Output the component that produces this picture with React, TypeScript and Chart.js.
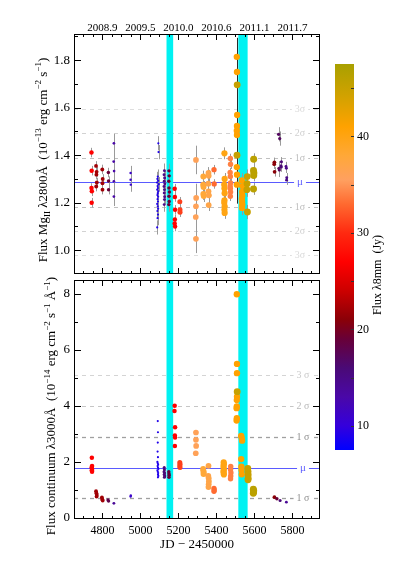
import React, { useEffect, useRef } from "react";
import { Chart, registerables } from "chart.js";
Chart.register(...registerables);

const SERIF = "'Liberation Serif','Times New Roman','DejaVu Serif',serif";

// ---------- axes / labels ----------
const X_MIN = 4650, X_MAX = 5945;
const JD_TICKS = [4800, 5000, 5200, 5400, 5600, 5800];
const YEAR_LABELS = ["2008.9", "2009.5", "2010.0", "2010.6", "2011.1", "2011.7"];
const MG_TICKS = [1.0, 1.2, 1.4, 1.6, 1.8];
const MG_MINOR = [1.1, 1.3, 1.5, 1.7, 1.9];
const MG_RANGE = [0.9, 1.91];
const CONT_TICKS = [0, 2, 4, 6, 8];
const CONT_MINOR = [1, 3, 5, 7];
const CONT_RANGE = [-0.04, 8.5];
const CBAR_TICKS = [10, 20, 30, 40];
const CBAR_RANGE = [7.5, 47.5];
const BANDS = [[5137, 5172], [5515, 5564]];

const MG_MU = 1.287, MG_SIGMA = 0.103;
const MG_LEVELS = [-3, -2, -1, 0, 1, 2, 3];
const MG_LEVEL_LABELS = ["3σ", "2σ", "1σ", "μ", "1σ", "2σ", "3σ"];
const CONT_MU = 1.8, CONT_SIGMA = 1.1;
const CONT_LEVELS = [-1, 0, 1, 2, 3];
const CONT_LEVEL_LABELS = ["1 σ", "μ", "1 σ", "2 σ", "3 σ"];

// ---------- Mg II data (groups) ----------
const mgGroupMM = [27, 22, 22, 19, 13, 11, 9, 15, 19, 27, 31, 36, 38, 37, 33, 40, 34, 41, 45, 41, 45, 46, 21, 17, 16, 15];
const mgGroupErr = [0.02, 0.02, 0.02, 0.02, 0.04, 0.03, 0.03, 0.03, 0.03, 0.02, 0.02, 0.06, 0.025, 0.025, 0.02, 0.025, 0.02, 0.08, 0.07, 0.03, 0.03, 0.025, 0.02, 0.03, 0.02, 0.02];
const mgGroupJD = [
  [4742, 4743, 4742, 4744, 4743],
  [4766, 4769, 4768, 4770, 4767],
  [4799, 4801, 4800, 4800],
  [4831, 4832, 4832],
  [4860, 4859, 4861, 4860, 4860],
  [4948, 4948, 4949],
  [5094, 5095, 5091, 5089, 5093, 5087, 5096, 5090, 5092, 5088, 5094, 5091, 5089, 5093, 5090, 5092, 5088, 5091, 5093, 5089, 5092, 5090, 5088],
  [5126, 5124, 5127, 5125, 5128, 5124, 5126, 5125, 5127, 5126, 5125],
  [5150, 5151, 5149, 5150, 5152, 5150, 5151, 5149],
  [5180, 5181, 5182, 5181, 5180, 5182],
  [5207, 5208, 5208],
  [5292, 5293, 5292, 5291, 5292],
  [5331, 5330, 5332, 5331, 5333],
  [5358, 5359, 5357, 5358, 5360, 5359],
  [5387, 5388],
  [5442, 5443, 5441, 5442, 5443, 5442, 5441, 5443, 5442, 5443],
  [5473, 5474, 5472, 5473, 5474, 5472, 5473, 5474, 5473],
  [5507, 5508, 5509, 5508, 5507, 5508, 5507, 5508, 5507],
  [5509, 5508],
  [5534, 5536, 5535, 5536, 5534, 5535, 5536, 5535],
  [5562, 5561, 5560, 5563],
  [5596, 5595, 5597, 5596, 5595],
  [5705, 5704, 5706],
  [5727, 5733, 5729, 5731],
  [5742, 5740, 5741],
  [5766, 5768, 5770, 5769],
];
const mgGroupFlux = [
  [1.411, 1.335, 1.262, 1.248, 1.2],
  [1.355, 1.33, 1.318, 1.285, 1.268],
  [1.34, 1.3, 1.282, 1.255],
  [1.327, 1.291, 1.255],
  [1.45, 1.373, 1.333, 1.29, 1.226],
  [1.325, 1.297, 1.276],
  [1.45, 1.413, 1.31, 1.3, 1.292, 1.285, 1.278, 1.27, 1.262, 1.255, 1.248, 1.24, 1.232, 1.225, 1.215, 1.205, 1.195, 1.185, 1.175, 1.165, 1.15, 1.135, 1.096],
  [1.335, 1.318, 1.304, 1.29, 1.28, 1.268, 1.255, 1.241, 1.225, 1.213, 1.192],
  [1.334, 1.313, 1.29, 1.262, 1.245, 1.227, 1.205, 1.192],
  [1.259, 1.224, 1.17, 1.129, 1.112, 1.1],
  [1.204, 1.17, 1.16],
  [1.38, 1.22, 1.185, 1.14, 1.048],
  [1.31, 1.276, 1.266, 1.237, 1.228],
  [1.325, 1.313, 1.28, 1.248, 1.231, 1.19],
  [1.339, 1.279],
  [1.408, 1.3, 1.276, 1.26, 1.24, 1.21, 1.2, 1.185, 1.17, 1.157],
  [1.386, 1.362, 1.327, 1.31, 1.283, 1.269, 1.26, 1.245, 1.227],
  [1.814, 1.75, 1.569, 1.523, 1.503, 1.485, 1.35, 1.318, 1.276],
  [1.696, 1.4],
  [1.294, 1.27, 1.245, 1.23, 1.217, 1.205, 1.192, 1.178],
  [1.31, 1.28, 1.255, 1.161],
  [1.383, 1.336, 1.325, 1.315, 1.258],
  [1.37, 1.362, 1.33],
  [1.488, 1.47, 1.345, 1.338],
  [1.372, 1.355, 1.35],
  [1.352, 1.345, 1.305, 1.295],
];

// ---------- continuum data (groups) ----------
const contGroupMM = [27, 22, 22, 18, 14, 11, 9, 16, 19, 27, 31, 36, 38, 37, 33, 40, 34, 41, 45, 41, 45, 46, 21, 19, 16, 14];
const contGroupJD = [
  [4744, 4745, 4743, 4745, 4744, 4745],
  [4766, 4768, 4770, 4769],
  [4797, 4799, 4801],
  [4829, 4832],
  [4860],
  [4948, 4949],
  [5091, 5092, 5091, 5090, 5092, 5089, 5091, 5093, 5090, 5092, 5094, 5089, 5091, 5093, 5092, 5094, 5092],
  [5125, 5126, 5124, 5127, 5125, 5128, 5126],
  [5149, 5150, 5151, 5150],
  [5180, 5179, 5182, 5181, 5182, 5181],
  [5207, 5208, 5207, 5208],
  [5292, 5292, 5293, 5291],
  [5330, 5331, 5333, 5332],
  [5358, 5357, 5359, 5360, 5359, 5358],
  [5387, 5388, 5387],
  [5438, 5439, 5437, 5438, 5439, 5437, 5438, 5439],
  [5475, 5474, 5476, 5475, 5474],
  [5507, 5508, 5508, 5508, 5507, 5507, 5506, 5507, 5506],
  [5509],
  [5530, 5533, 5535, 5530, 5531, 5532, 5533],
  [5565, 5566, 5567, 5567, 5566],
  [5594, 5596, 5595, 5594],
  [5705],
  [5718],
  [5735],
  [5768],
];
const contGroupFlux = [
  [2.15, 1.85, 1.8, 1.75, 1.7, 1.65],
  [0.95, 0.88, 0.82, 0.76],
  [0.73, 0.66, 0.62],
  [0.64, 0.6],
  [0.52],
  [0.76, 0.8],
  [3.46, 3.06, 2.69, 2.37, 2.17, 2.0, 1.95, 1.9, 1.85, 1.8, 1.75, 1.7, 1.65, 1.6, 1.55, 1.5, 1.45],
  [1.8, 1.72, 1.65, 1.6, 1.55, 1.5, 1.45],
  [1.65, 1.58, 1.52, 1.45],
  [4.01, 3.82, 3.24, 2.94, 2.87, 2.57],
  [1.98, 1.92, 1.85, 1.8],
  [3.05, 2.79, 2.57, 2.31],
  [1.75, 1.68, 1.62, 1.57],
  [1.86, 1.5, 1.42, 1.3, 1.2, 1.1],
  [1.05, 1.0, 0.95],
  [1.98, 1.92, 1.85, 1.78, 1.72, 1.66, 1.6, 1.55],
  [1.84, 1.73, 1.61, 1.5, 1.4],
  [7.99, 5.5, 5.17, 4.33, 4.21, 3.98, 3.92, 3.56, 3.48],
  [4.51],
  [2.93, 2.85, 2.76, 2.1, 1.83, 1.71, 1.56],
  [1.77, 1.66, 1.54, 1.42, 1.36],
  [1.02, 0.97, 0.92, 0.88],
  [0.74],
  [0.68],
  [0.62],
  [0.56],
];

// ---------- colour map ----------
const CMAP: Array<[number, number[]]> = [
  [7.5, [0, 0, 255]],
  [10, [52, 0, 220]],
  [13, [74, 8, 168]],
  [16, [74, 10, 118]],
  [19, [104, 0, 56]],
  [21, [138, 0, 8]],
  [24, [204, 0, 0]],
  [27, [255, 0, 0]],
  [30, [255, 42, 16]],
  [33, [255, 106, 48]],
  [35.5, [255, 160, 96]],
  [38, [255, 168, 56]],
  [41, [255, 162, 0]],
  [44, [212, 162, 0]],
  [47.5, [168, 160, 0]],
];
function cmap(v: number): string {
  if (v <= CMAP[0][0]) return `rgb(${CMAP[0][1].join(",")})`;
  for (let i = 1; i < CMAP.length; i++) {
    if (v <= CMAP[i][0]) {
      const [a, ca] = CMAP[i - 1];
      const [b, cb] = CMAP[i];
      const t = (v - a) / (b - a);
      const c = ca.map((x, k) => Math.round(x + (cb[k] - x) * t));
      return `rgb(${c.join(",")})`;
    }
  }
  return `rgb(${CMAP[CMAP.length - 1][1].join(",")})`;
}
const radiusFor = (mm: number) => 0.5 + mm * 0.065;

function flatten(jds: number[][], vals: number[][], mms: number[], errs?: number[]) {
  const pts: { x: number; y: number }[] = [];
  const colors: string[] = [];
  const radii: number[] = [];
  const e: number[] = [];
  jds.forEach((g, gi) => {
    g.forEach((x, i) => {
      pts.push({ x, y: vals[gi][i] });
      colors.push(cmap(mms[gi]));
      radii.push(radiusFor(mms[gi]));
      e.push(errs ? errs[gi] : 0);
    });
  });
  return { pts, colors, radii, e };
}

// ---------- drawing helpers ----------
type Part = { t: string; s?: "sup" | "sub" };
function drawRichVertical(ctx: CanvasRenderingContext2D, parts: Part[], x: number, y: number, size: number) {
  ctx.save();
  ctx.translate(x, y);
  ctx.rotate(-Math.PI / 2);
  ctx.fillStyle = "#000";
  ctx.textBaseline = "alphabetic";
  ctx.textAlign = "left";
  const fontOf = (p: Part) => `${p.s ? Math.round(size * 0.7) : size}px ${SERIF}`;
  let total = 0;
  const widths = parts.map((p) => {
    ctx.font = fontOf(p);
    const w = ctx.measureText(p.t).width;
    total += w;
    return w;
  });
  let cx = -total / 2;
  parts.forEach((p, i) => {
    ctx.font = fontOf(p);
    const dy = p.s === "sup" ? -size * 0.42 : p.s === "sub" ? size * 0.25 : 0;
    ctx.fillText(p.t, cx, dy);
    cx += widths[i];
  });
  ctx.restore();
}

function bgPlugin(opts: { mu: number; sigma: number; levels: number[]; labels: string[]; lineColors: string[]; lineWidths: number[]; labelColors: string[]; labelX: number; errDraw: boolean; errs: number[]; pts: { x: number; y: number }[] }) {
  return {
    id: "bg",
    beforeDatasetsDraw(chart: any) {
      const { ctx, chartArea: a, scales } = chart;
      const xs = scales.x, ys = scales.y;
      ctx.save();
      ctx.beginPath();
      ctx.rect(a.left, a.top, a.right - a.left, a.bottom - a.top);
      ctx.clip();
      // sigma lines
      opts.levels.forEach((k, i) => {
        const v = opts.mu + k * opts.sigma;
        const py = Math.round(ys.getPixelForValue(v)) + 0.5;
        const ak = Math.abs(k);
        ctx.strokeStyle = opts.lineColors[ak];
        ctx.lineWidth = opts.lineWidths[ak];
        ctx.setLineDash(k === 0 ? [] : [4, 4]);
        ctx.beginPath();
        ctx.moveTo(a.left, py);
        ctx.lineTo(a.right, py);
        ctx.stroke();
        ctx.setLineDash([]);
        ctx.font = `${k === 0 ? 11 : 10}px ${SERIF}`;
        const lab = opts.labels[i];
        const w = ctx.measureText(lab).width;
        ctx.fillStyle = "#fff";
        ctx.fillRect(opts.labelX - w / 2 - 3, py - 4, w + 6, 8);
        ctx.fillStyle = opts.labelColors[ak];
        ctx.textAlign = "center";
        ctx.textBaseline = "middle";
        ctx.fillText(lab, opts.labelX, py);
      });
      // bands
      ctx.fillStyle = "#00f2f2";
      BANDS.forEach(([b0, b1]) => {
        const x0 = xs.getPixelForValue(b0), x1 = xs.getPixelForValue(b1);
        ctx.fillRect(x0, a.top, x1 - x0, a.bottom - a.top);
      });
      // error bars
      if (opts.errDraw) {
        ctx.lineWidth = 1;
        opts.pts.forEach((p, i) => {
          const e = opts.errs[i];
          if (!e) return;
          const px = Math.round(xs.getPixelForValue(p.x)) + 0.5;
          ctx.strokeStyle = e >= 0.07 ? "#2a2a2a" : "#9a9a9a";
          ctx.beginPath();
          ctx.moveTo(px, ys.getPixelForValue(p.y - e));
          ctx.lineTo(px, ys.getPixelForValue(p.y + e));
          ctx.stroke();
        });
      }
      ctx.restore();
    },
  };
}

function framePlugin(opts: { yMinor: number[]; yMajor: number[]; extra?: (chart: any) => void }) {
  return {
    id: "frame",
    afterDraw(chart: any) {
      const { ctx, chartArea: a, scales } = chart;
      const xs = scales.x, ys = scales.y;
      ctx.save();
      ctx.strokeStyle = "#000";
      ctx.lineWidth = 1;
      ctx.strokeRect(a.left + 0.5, a.top + 0.5, a.right - a.left - 1, a.bottom - a.top - 1);
      ctx.beginPath();
      for (let v = 4700; v <= 5900; v += 50) {
        const px = Math.round(xs.getPixelForValue(v)) + 0.5;
        const len = v % 200 === 0 ? 6 : 3;
        ctx.moveTo(px, a.bottom);
        ctx.lineTo(px, a.bottom - len);
        ctx.moveTo(px, a.top);
        ctx.lineTo(px, a.top + len);
      }
      const ticks = [...opts.yMinor.map((v) => [v, 4]), ...opts.yMajor.map((v) => [v, 7])];
      ticks.forEach(([v, len]) => {
        const py = Math.round(ys.getPixelForValue(v)) + 0.5;
        ctx.moveTo(a.left, py);
        ctx.lineTo(a.left + len, py);
        ctx.moveTo(a.right, py);
        ctx.lineTo(a.right - len, py);
      });
      ctx.stroke();
      ctx.restore();
      if (opts.extra) opts.extra(chart);
    },
  };
}

function drawColorbar(chart: any) {
  const ctx: CanvasRenderingContext2D = chart.ctx;
  const L = 335, R = 354, T = 64, B = 450;
  const [v0, v1] = CBAR_RANGE;
  const yOf = (v: number) => B - ((v - v0) / (v1 - v0)) * (B - T);
  ctx.save();
  const g = ctx.createLinearGradient(0, B, 0, T);
  CMAP.forEach(([v]) => g.addColorStop(Math.min(1, Math.max(0, (v - v0) / (v1 - v0))), cmap(v)));
  ctx.fillStyle = g;
  ctx.fillRect(L, T, R - L, B - T);
  ctx.strokeStyle = "#333";
  ctx.lineWidth = 1;
  ctx.beginPath();
  for (let v = 10; v <= 45; v += 5) {
    const py = Math.round(yOf(v)) + 0.5;
    ctx.moveTo(R, py);
    ctx.lineTo(R - 3, py);
  }
  ctx.stroke();
  ctx.fillStyle = "#000";
  ctx.font = `12px ${SERIF}`;
  ctx.textAlign = "left";
  ctx.textBaseline = "middle";
  CBAR_TICKS.forEach((v) => ctx.fillText(String(v), 357, yOf(v)));
  ctx.restore();
  drawRichVertical(ctx, [{ t: "Flux λ8mm  (Jy)" }], 381, 275, 12);
}

const TOP_TITLE: Part[] = [
  { t: "Flux Mg" }, { t: "II", s: "sub" }, { t: " λ2800Å  (10" }, { t: "−13", s: "sup" },
  { t: " erg cm" }, { t: "−2", s: "sup" }, { t: " s" }, { t: "−1", s: "sup" }, { t: ")" },
];
const BOT_TITLE: Part[] = [
  { t: "Flux continuum λ3000Å  (10" }, { t: "−14", s: "sup" }, { t: " erg cm" }, { t: "−2", s: "sup" },
  { t: " s" }, { t: "−1", s: "sup" }, { t: " Å" }, { t: "−1", s: "sup" }, { t: ")" },
];

export default function App() {
  const topRef = useRef<HTMLCanvasElement>(null);
  const botRef = useRef<HTMLCanvasElement>(null);

  useEffect(() => {
    Chart.defaults.font.family = SERIF;
    const mg = flatten(mgGroupJD, mgGroupFlux, mgGroupMM, mgGroupErr);
    const ct = flatten(contGroupJD, contGroupFlux, contGroupMM);

    const commonY = (min: number, max: number, ticks: number[], fmt: (v: number) => string) => ({
      type: "linear" as const,
      position: "left" as const,
      min,
      max,
      afterFit: (s: any) => { s.width = 74; },
      afterBuildTicks: (s: any) => { s.ticks = ticks.map((v) => ({ value: v })); },
      ticks: { callback: (v: any) => fmt(Number(v)), font: { family: SERIF, size: 13 }, color: "#000", padding: 4 },
      grid: { display: false, drawTicks: false },
      border: { display: false },
    });

    const c1 = new Chart(topRef.current as HTMLCanvasElement, {
      type: "scatter",
      data: {
        datasets: [{
          data: mg.pts,
          pointBackgroundColor: mg.colors,
          pointRadius: mg.radii,
          pointHoverRadius: mg.radii,
          pointBorderWidth: 0,
        }],
      },
      options: {
        animation: false,
        responsive: false,
        devicePixelRatio: 1,
        events: [],
        layout: { padding: { left: 0, top: 0, right: 93, bottom: 311 } },
        plugins: { legend: { display: false }, tooltip: { enabled: false } },
        scales: {
          x: {
            type: "linear",
            position: "top",
            min: X_MIN,
            max: X_MAX,
            afterFit: (s: any) => { s.height = 34; },
            afterBuildTicks: (s: any) => { s.ticks = JD_TICKS.map((v) => ({ value: v })); },
            ticks: { display: false },
            grid: { display: false, drawTicks: false },
            border: { display: false },
          },
          y: commonY(MG_RANGE[0], MG_RANGE[1], MG_TICKS, (v) => v.toFixed(1)),
        },
      } as any,
      plugins: [
        bgPlugin({
          mu: MG_MU, sigma: MG_SIGMA, levels: MG_LEVELS, labels: MG_LEVEL_LABELS,
          lineColors: ["#5a5aff", "#c0c0c0", "#d2d2d2", "#dedede"],
          lineWidths: [1, 1, 1, 1],
          labelColors: ["#6060ff", "#bdbdbd", "#d0d0d0", "#dadada"],
          labelX: 300, errDraw: true, errs: mg.e, pts: mg.pts,
        }),
        framePlugin({
          yMinor: MG_MINOR,
          yMajor: MG_TICKS,
          extra: (chart) => {
            const ctx = chart.ctx as CanvasRenderingContext2D;
            const xs = chart.scales.x;
            ctx.save();
            ctx.fillStyle = "#000";
            ctx.font = `11px ${SERIF}`;
            ctx.textAlign = "center";
            ctx.textBaseline = "middle";
            JD_TICKS.forEach((v, i) => ctx.fillText(YEAR_LABELS[i], xs.getPixelForValue(v), 28));
            ctx.restore();
            drawRichVertical(ctx, TOP_TITLE, 46.5, 160, 13);
            drawColorbar(chart);
          },
        }),
      ],
    });

    const c2 = new Chart(botRef.current as HTMLCanvasElement, {
      type: "scatter",
      data: {
        datasets: [{
          data: ct.pts,
          pointBackgroundColor: ct.colors,
          pointRadius: ct.radii,
          pointHoverRadius: ct.radii,
          pointBorderWidth: 0,
        }],
      },
      options: {
        animation: false,
        responsive: false,
        devicePixelRatio: 1,
        events: [],
        layout: { padding: { left: 0, top: 280, right: 93, bottom: 0 } },
        plugins: { legend: { display: false }, tooltip: { enabled: false } },
        scales: {
          x: {
            type: "linear",
            position: "bottom",
            min: X_MIN,
            max: X_MAX,
            afterFit: (s: any) => { s.height = 66; },
            afterBuildTicks: (s: any) => { s.ticks = JD_TICKS.map((v) => ({ value: v })); },
            ticks: {
              callback: (v: any) => String(v),
              font: { family: SERIF, size: 12 },
              color: "#000",
              padding: 5,
              maxRotation: 0,
              autoSkip: false,
            },
            grid: { display: false, drawTicks: false },
            border: { display: false },
          },
          y: commonY(CONT_RANGE[0], CONT_RANGE[1], CONT_TICKS, (v) => String(Math.round(v))),
        },
      } as any,
      plugins: [
        bgPlugin({
          mu: CONT_MU, sigma: CONT_SIGMA, levels: CONT_LEVELS, labels: CONT_LEVEL_LABELS,
          lineColors: ["#5a5aff", "#a0a0a0", "#c6c6c6", "#d4d4d4"],
          lineWidths: [1, 1.3, 1, 1],
          labelColors: ["#6060ff", "#909090", "#b8b8b8", "#cacaca"],
          labelX: 303, errDraw: false, errs: ct.e, pts: ct.pts,
        }),
        framePlugin({
          yMinor: CONT_MINOR,
          yMajor: CONT_TICKS,
          extra: (chart) => {
            const ctx = chart.ctx as CanvasRenderingContext2D;
            drawRichVertical(ctx, BOT_TITLE, 55, 406, 13);
            ctx.save();
            ctx.fillStyle = "#000";
            ctx.font = `13px ${SERIF}`;
            ctx.textAlign = "center";
            ctx.textBaseline = "middle";
            const xs = chart.scales.x;
            ctx.fillText("JD − 2450000", (xs.left + xs.right) / 2, 545);
            ctx.restore();
          },
        }),
      ],
    });

    return () => {
      c1.destroy();
      c2.destroy();
    };
  }, []);

  return (
    <div style={{ position: "absolute", left: 0, top: 0, width: 413, height: 585, background: "#fff" }}>
      <canvas ref={topRef} width={413} height={585} style={{ position: "absolute", left: 0, top: 0 }} />
      <canvas ref={botRef} width={413} height={585} style={{ position: "absolute", left: 0, top: 0 }} />
    </div>
  );
}
